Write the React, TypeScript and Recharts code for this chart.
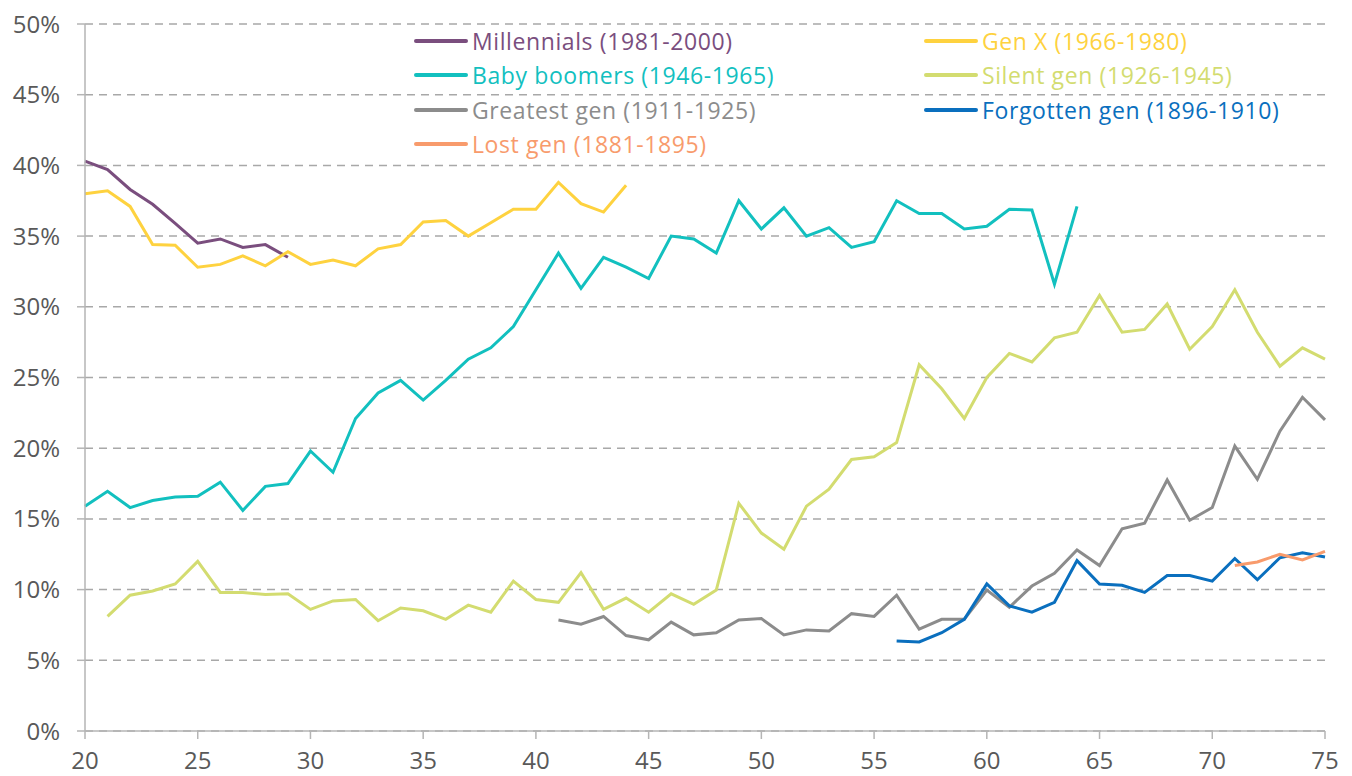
import { LineChart, Line, XAxis, YAxis, CartesianGrid, Legend } from "recharts";

// share by age; each series starts at its own first age
const millennialsStart = 20;
const millennials = [40.3, 39.7, 38.3, 37.25, 35.9, 34.5, 34.8, 34.2, 34.4, 33.5];

const genXStart = 20;
const genX = [
  38.0, 38.2, 37.1, 34.4, 34.35, 32.8, 33.0, 33.6, 32.9, 33.9, 33.0, 33.3, 32.9, 34.1, 34.4,
  36.0, 36.1, 35.0, 35.95, 36.9, 36.9, 38.8, 37.3, 36.7, 38.6,
];

const boomersStart = 20;
const boomers = [
  15.9, 16.95, 15.8, 16.3, 16.55, 16.6, 17.6, 15.6, 17.3, 17.5, 19.8, 18.3, 22.1, 23.9, 24.8,
  23.4, 24.8, 26.3, 27.1, 28.6, 31.2, 33.8, 31.3, 33.5, 32.8, 32.0, 35.0, 34.8, 33.8, 37.5,
  35.5, 37.0, 35.0, 35.6, 34.2, 34.6, 37.5, 36.6, 36.6, 35.5, 35.7, 36.9, 36.85, 31.6, 37.1,
];

const silentStart = 21;
const silent = [
  8.1, 9.6, 9.9, 10.4, 12.0, 9.8, 9.8, 9.65, 9.7, 8.6, 9.2, 9.3, 7.8, 8.7, 8.5, 7.9, 8.9, 8.4,
  10.6, 9.3, 9.1, 11.2, 8.6, 9.4, 8.4, 9.7, 8.96, 9.97, 16.1, 14.0, 12.85, 15.9, 17.1, 19.2,
  19.4, 20.4, 25.9, 24.2, 22.1, 25.0, 26.7, 26.1, 27.8, 28.2, 30.8, 28.2, 28.4, 30.2, 27.0,
  28.6, 31.2, 28.2, 25.8, 27.1, 26.3,
];

const greatestStart = 41;
const greatest = [
  7.85, 7.55, 8.1, 6.75, 6.45, 7.7, 6.8, 6.95, 7.85, 7.95, 6.8, 7.15, 7.07, 8.3, 8.1, 9.6, 7.2,
  7.9, 7.9, 9.97, 8.75, 10.25, 11.15, 12.8, 11.7, 14.3, 14.7, 17.75, 14.9, 15.8, 20.15, 17.8,
  21.2, 23.6, 22.0,
];

const forgottenStart = 56;
const forgotten = [
  6.36, 6.3, 6.95, 7.9, 10.4, 8.85, 8.4, 9.1, 12.05, 10.4, 10.3, 9.8, 11.0, 11.0, 10.6, 12.2,
  10.7, 12.25, 12.6, 12.3,
];

const lostStart = 71;
const lost = [11.7, 11.95, 12.5, 12.1, 12.7];

const xTicks = [20, 25, 30, 35, 40, 45, 50, 55, 60, 65, 70, 75];
const yTicks = [0, 5, 10, 15, 20, 25, 30, 35, 40, 45, 50];

const series = [
  { key: "millennials", name: "Millennials (1981-2000)", color: "#7A4E7E", start: millennialsStart, values: millennials },
  { key: "genX", name: "Gen X (1966-1980)", color: "#FED23F", start: genXStart, values: genX },
  { key: "boomers", name: "Baby boomers (1946-1965)", color: "#12C0BF", start: boomersStart, values: boomers },
  { key: "silent", name: "Silent gen (1926-1945)", color: "#D3DC70", start: silentStart, values: silent },
  { key: "greatest", name: "Greatest gen (1911-1925)", color: "#8C8C8C", start: greatestStart, values: greatest },
  { key: "forgotten", name: "Forgotten gen (1896-1910)", color: "#0A6FBE", start: forgottenStart, values: forgotten },
  { key: "lost", name: "Lost gen (1881-1895)", color: "#F89B6C", start: lostStart, values: lost },
];

const rowsByAge = new Map<number, Record<string, number>>();
series.forEach((s) => {
  s.values.forEach((v, i) => {
    const age = s.start + i;
    if (!rowsByAge.has(age)) rowsByAge.set(age, { age });
    rowsByAge.get(age)![s.key] = v;
  });
});
const data = Array.from(rowsByAge.values()).sort((a, b) => a.age - b.age);

const FONT = "'Open Sans', Lato, sans-serif";

function LegendBox() {
  return (
    <div
      style={{
        display: "grid",
        gridTemplateColumns: "510px 400px",
        fontFamily: FONT,
        fontSize: 23,
        letterSpacing: 0.6,
      }}
    >
      {series.map((s) => (
        <div key={s.key} style={{ display: "flex", alignItems: "center", height: 34.3, color: s.color }}>
          <span style={{ display: "inline-block", width: 54, height: 4, background: s.color, borderRadius: 2, marginRight: 4 }} />
          <span style={{ whiteSpace: "nowrap" }}>{s.name}</span>
        </div>
      ))}
    </div>
  );
}

export default function App() {
  return (
    <LineChart width={1336} height={768} data={data} margin={{ top: 16, right: 19, left: 0, bottom: 0 }}>
      <CartesianGrid vertical={false} stroke="#A8A8A8" strokeWidth={1.5} strokeDasharray="8 6" />
      <XAxis
        dataKey="age"
        type="number"
        domain={[20, 75]}
        ticks={xTicks}
        height={45}
        stroke="#B5B5B5"
        strokeWidth={1.5}
        tickSize={8}
        tickMargin={13}
        tick={{ fill: "#595959", fontSize: 24, fontFamily: FONT }}
      />
      <YAxis
        type="number"
        domain={[0, 50]}
        ticks={yTicks}
        width={77}
        stroke="#B5B5B5"
        strokeWidth={1.5}
        tickSize={8}
        tickMargin={17}
        tickFormatter={(v: number) => `${v}%`}
        tick={{ fill: "#595959", fontSize: 24, fontFamily: FONT }}
      />
      <Legend
        layout="horizontal"
        verticalAlign="middle"
        align="center"
        content={() => <LegendBox />}
        wrapperStyle={{ top: 16, left: 406, width: 920, height: 140 }}
      />
      {series.map((s) => (
        <Line
          key={s.key}
          dataKey={s.key}
          name={s.name}
          stroke={s.color}
          strokeWidth={3}
          dot={false}
          activeDot={false}
          type="linear"
          isAnimationActive={false}
        />
      ))}
    </LineChart>
  );
}
